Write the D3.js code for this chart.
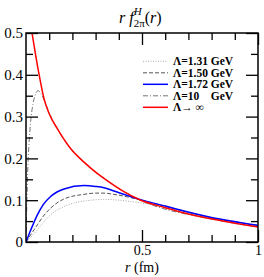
<!DOCTYPE html>
<html lang="en">
<head>
<meta charset="UTF-8">
<title>r f2pi(r)</title>
<script src="https://cdn.jsdelivr.net/npm/d3@7"></script>
<style>
    body { margin: 0; background: #fff; }
</style>
</head>
<body>
<div id="container"></div>
<script>
// values: [r (fm), r f(r)]
const lam131 = [[0,0],[0.02,0.011],[0.049,0.029],[0.075,0.047],[0.106,0.065],[0.164,0.085],[0.25,0.098],[0.3,0.101],[0.336,0.102],[0.379,0.101],[0.49,0.094],[0.6,0.084],[0.79,0.059],[1,0.039]];
const lam150 = [[0,0],[0.02,0.017],[0.049,0.041],[0.075,0.062],[0.106,0.081],[0.164,0.103],[0.25,0.114],[0.3,0.117],[0.336,0.117],[0.379,0.114],[0.49,0.101],[0.6,0.085],[0.79,0.059],[1,0.039]];
const lam172 = [[0,0],[0.02,0.028],[0.049,0.065],[0.075,0.09],[0.106,0.109],[0.164,0.127],[0.25,0.135],[0.3,0.133],[0.336,0.13],[0.379,0.122],[0.49,0.102],[0.6,0.086],[0.79,0.06],[1,0.04]];
const lam10 = [[0,0],[0.004,0.1],[0.008,0.18],[0.013,0.235],[0.02,0.288],[0.03,0.33],[0.04,0.352],[0.052,0.362],[0.065,0.355],[0.08,0.337],[0.1,0.309],[0.135,0.271],[0.193,0.223],[0.25,0.191],[0.362,0.142],[0.49,0.101],[0.79,0.056],[1,0.036]];
const lamInf = [[0.026,0.5],[0.042,0.445],[0.06,0.39],[0.078,0.342],[0.1,0.307],[0.135,0.271],[0.193,0.223],[0.25,0.191],[0.3,0.167],[0.362,0.142],[0.42,0.121],[0.49,0.101],[0.6,0.082],[0.7,0.067],[0.79,0.056],[0.9,0.045],[1,0.036]];

const seriesNames = ["Λ=1.31 GeV", "Λ=1.50 GeV", "Λ=1.72 GeV", "Λ=10    GeV", "Λ→ ∞"];
const yTicks = [0, 0.1, 0.2, 0.3, 0.4, 0.5];
const yTickLabels = ["0", "0.1", "0.2", "0.3", "0.4", "0.5"];
const xTicks = [0.5, 1];
const xTickLabels = ["0.5", "1"];

const width = 264, height = 277;
const margin = {top: 33, right: 6, bottom: 35, left: 26};
const serif = "Liberation Serif";

const svg = d3.select("#container")
    .append("svg")
    .attr("width", width)
    .attr("height", height)
    .attr("font-family", serif);

const xScale = d3.scaleLinear().domain([0, 1]).range([margin.left, width - margin.right]);
const yScale = d3.scaleLinear().domain([0, 0.5]).range([height - margin.bottom, margin.top]);

// lines
const styles = [
    {data: lam131, color: "#aaa", w: 1, dash: "1,1.5"},
    {data: lam150, color: "#555", w: 1, dash: "4,2"},
    {data: lam172, color: "#0000ff", w: 1.5, dash: null},
    {data: lam10, color: "#777", w: 1, dash: "5,2,1,2"},
    {data: lamInf, color: "#ff0000", w: 1.5, dash: null}
];
const drawOrder = [0, 1, 3, 2, 4];

const lineGen = d3.line()
    .x(d => xScale(d[0]))
    .y(d => yScale(d[1]))
    .curve(d3.curveMonotoneX);

const plot = svg.append("g");
plot.append("clipPath").attr("id", "clip")
    .append("rect")
    .attr("x", margin.left).attr("y", margin.top)
    .attr("width", width - margin.left - margin.right)
    .attr("height", height - margin.top - margin.bottom);

drawOrder.forEach(i => {
    const s = styles[i];
    plot.append("path")
        .attr("d", lineGen(s.data))
        .attr("fill", "none")
        .attr("stroke", s.color)
        .attr("stroke-width", s.w)
        .attr("stroke-dasharray", s.dash)
        .attr("clip-path", "url(#clip)");
});

// axes, ticks pointing inward on all sides
const tickMaj = 12, tickMin = 7;
const yMinor = d3.range(0.05, 0.5, 0.1);
const xMinor = d3.range(0.1, 1, 0.1).filter(v => Math.abs(v - 0.5) > 1e-6);

function axisGroup(axis, tx, ty) {
    const g = svg.append("g")
        .attr("transform", `translate(${tx},${ty})`)
        .call(axis)
        .attr("font-family", serif);
    g.select(".domain").remove();
    g.selectAll("line").attr("stroke", "#000").attr("stroke-width", 1.3);
    return g;
}

const yLeft = axisGroup(d3.axisLeft(yScale).tickValues(yTicks).tickSize(-tickMaj).tickPadding(3)
    .tickFormat((d, i) => yTickLabels[i]), margin.left, 0);
yLeft.selectAll("text").attr("font-size", 15).attr("fill", "#000");
axisGroup(d3.axisLeft(yScale).tickValues(yMinor).tickSize(-tickMin).tickFormat(""), margin.left, 0);
axisGroup(d3.axisRight(yScale).tickValues(yTicks).tickSize(-tickMaj).tickFormat(""), width - margin.right, 0);
axisGroup(d3.axisRight(yScale).tickValues(yMinor).tickSize(-tickMin).tickFormat(""), width - margin.right, 0);

const xBottom = axisGroup(d3.axisBottom(xScale).tickValues(xTicks).tickSize(-tickMaj).tickPadding(3)
    .tickFormat((d, i) => xTickLabels[i]), 0, height - margin.bottom);
xBottom.selectAll("text").attr("font-size", 14).attr("fill", "#000");
axisGroup(d3.axisBottom(xScale).tickValues(xMinor).tickSize(-tickMin).tickFormat(""), 0, height - margin.bottom);
axisGroup(d3.axisTop(xScale).tickValues(xTicks).tickSize(-tickMaj).tickFormat(""), 0, margin.top);
axisGroup(d3.axisTop(xScale).tickValues(xMinor).tickSize(-tickMin).tickFormat(""), 0, margin.top);

// frame
svg.append("rect")
    .attr("x", margin.left).attr("y", margin.top)
    .attr("width", width - margin.left - margin.right)
    .attr("height", height - margin.top - margin.bottom)
    .attr("fill", "none")
    .attr("stroke", "#000")
    .attr("stroke-width", 1.5);

// x label
const xLab = svg.append("text")
    .attr("x", (margin.left + width - margin.right) / 2)
    .attr("y", 271.5)
    .attr("text-anchor", "middle")
    .attr("font-size", 14);
xLab.append("tspan").attr("font-style", "italic").text("r");
xLab.append("tspan").text(" (fm)");

// title
const title = svg.append("text")
    .attr("x", 119)
    .attr("y", 23)
    .attr("font-size", 16);
title.append("tspan").attr("font-style", "italic").text("r f");
title.append("tspan").attr("font-style", "italic").attr("font-size", 11).attr("dy", -8).text("H");
title.append("tspan").attr("font-size", 11).attr("dx", -8).attr("dy", 12).text("2π");
title.append("tspan").attr("dy", -4).text("(");
title.append("tspan").attr("font-style", "italic").text("r");
title.append("tspan").text(")");

// legend
const legend = svg.append("g").attr("class", "legend");
const legY0 = 61.3, legStep = 11.5;
styles.forEach((s, i) => {
    const y = legY0 + i * legStep;
    legend.append("line")
        .attr("x1", 143).attr("x2", 168)
        .attr("y1", y).attr("y2", y)
        .attr("stroke", s.color)
        .attr("stroke-width", s.w)
        .attr("stroke-dasharray", s.dash);
    legend.append("text")
        .attr("x", 173)
        .attr("y", y + 3.8)
        .attr("font-size", 11.5)
        .attr("font-weight", "bold")
        .style("white-space", "pre")
        .text(seriesNames[i]);
});
</script>
</body>
</html>
